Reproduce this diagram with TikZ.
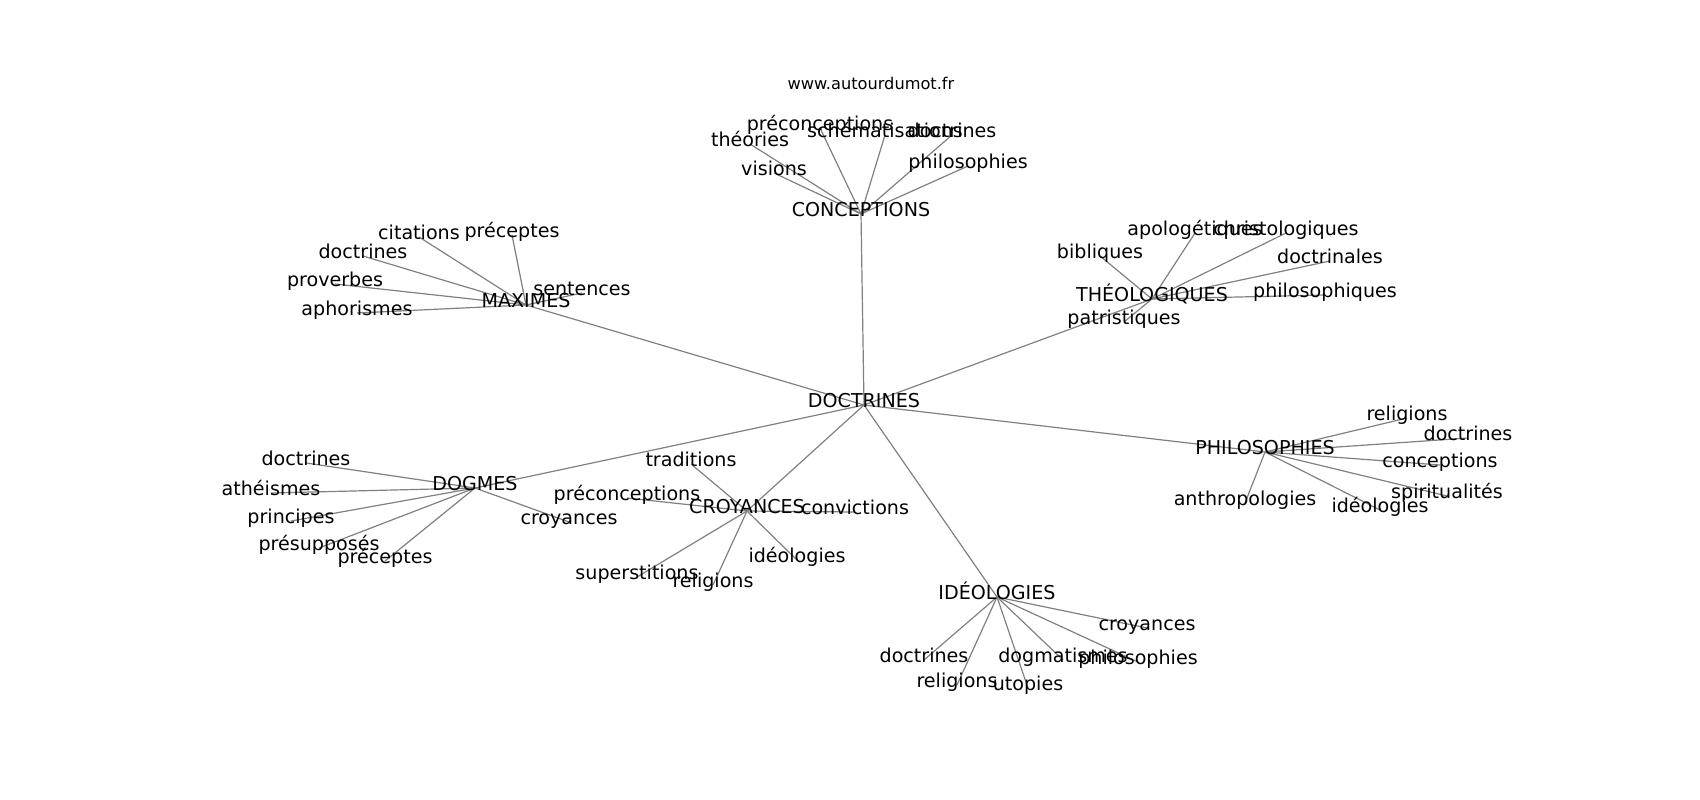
\documentclass[tikz,border=0pt]{standalone}
\usepackage{fontspec}
\setmainfont{DejaVu Sans}
\usetikzlibrary{backgrounds}

\begin{document}
\begin{tikzpicture}[x=1pt,y=-1pt,
  word/.style={font=\fontsize{19.1}{22}\selectfont,inner sep=0pt,
    text height=0.76em,text depth=0.21em},
  link/.style={draw=gray,line width=1.2pt}]
    \useasboundingbox (0,0) rectangle (1700,800);
    \node[font=\fontsize{16.2}{19}\selectfont,anchor=base] (site) at (871,89) {www.autourdumot.fr};

    \begin{scope}[shift={(0,3)}]
    \node[word] (D) at (864,402) {DOCTRINES};

    \node[word] (C) at (861,211) {CONCEPTIONS};
    \node[word] (C1) at (750,141) {théories};
    \node[word] (C2) at (774,170) {visions};
    \node[word] (C3) at (820,125) {préconceptions};
    \node[word] (C4) at (885,132) {schématisations};
    \node[word] (C5) at (952,132) {doctrines};
    \node[word] (C6) at (968,163) {philosophies};

    \node[word] (T) at (1152,296) {THÉOLOGIQUES};
    \node[word] (T1) at (1100,253) {bibliques};
    \node[word] (T2) at (1195,230) {apologétiques};
    \node[word] (T3) at (1286,230) {christologiques};
    \node[word] (T4) at (1330,258) {doctrinales};
    \node[word] (T5) at (1325,292) {philosophiques};
    \node[word] (T6) at (1124,319) {patristiques};

    \node[word] (M) at (526,302) {MAXIMES};
    \node[word] (M1) at (419,234) {citations};
    \node[word] (M2) at (512,232) {préceptes};
    \node[word] (M3) at (363,253) {doctrines};
    \node[word] (M4) at (335,281) {proverbes};
    \node[word] (M5) at (357,310) {aphorismes};
    \node[word] (M6) at (582,290) {sentences};

    \node[word] (G) at (475,485) {DOGMES};
    \node[word] (G1) at (306,460) {doctrines};
    \node[word] (G2) at (271,490) {athéismes};
    \node[word] (G3) at (291,518) {principes};
    \node[word] (G4) at (319,545) {présupposés};
    \node[word] (G5) at (385,558) {préceptes};
    \node[word] (G6) at (569,519) {croyances};

    \node[word] (R) at (747,508) {CROYANCES};
    \node[word] (R1) at (691,461) {traditions};
    \node[word] (R2) at (627,495) {préconceptions};
    \node[word] (R3) at (855,509) {convictions};
    \node[word] (R4) at (797,557) {idéologies};
    \node[word] (R5) at (637,574) {superstitions};
    \node[word] (R6) at (713,582) {religions};

    \node[word] (I) at (997,594) {IDÉOLOGIES};
    \node[word] (I1) at (1147,625) {croyances};
    \node[word] (I2) at (924,657) {doctrines};
    \node[word] (I3) at (1063,657) {dogmatismes};
    \node[word] (I4) at (1138,659) {philosophies};
    \node[word] (I5) at (957,682) {religions};
    \node[word] (I6) at (1028,685) {utopies};

    \node[word] (P) at (1265,449) {PHILOSOPHIES};
    \node[word] (P1) at (1407,415) {religions};
    \node[word] (P2) at (1468,435) {doctrines};
    \node[word] (P3) at (1440,462) {conceptions};
    \node[word] (P4) at (1447,493) {spiritualités};
    \node[word] (P5) at (1245,500) {anthropologies};
    \node[word] (P6) at (1380,507) {idéologies};
    \end{scope}

    \begin{scope}[on background layer]
    \path[link] (D.center) edge (C.center)
          (D.center) edge (T.center)
          (D.center) edge (M.center)
          (D.center) edge (G.center)
          (D.center) edge (R.center)
          (D.center) edge (I.center)
          (D.center) edge (P.center)
    ;
    \foreach \h in {C,T,M,G,R,I,P}
      \foreach \n in {1,...,6}
        \path[link] (\h.center) edge (\h\n.center);
    \end{scope}

\end{tikzpicture}
\end{document}
